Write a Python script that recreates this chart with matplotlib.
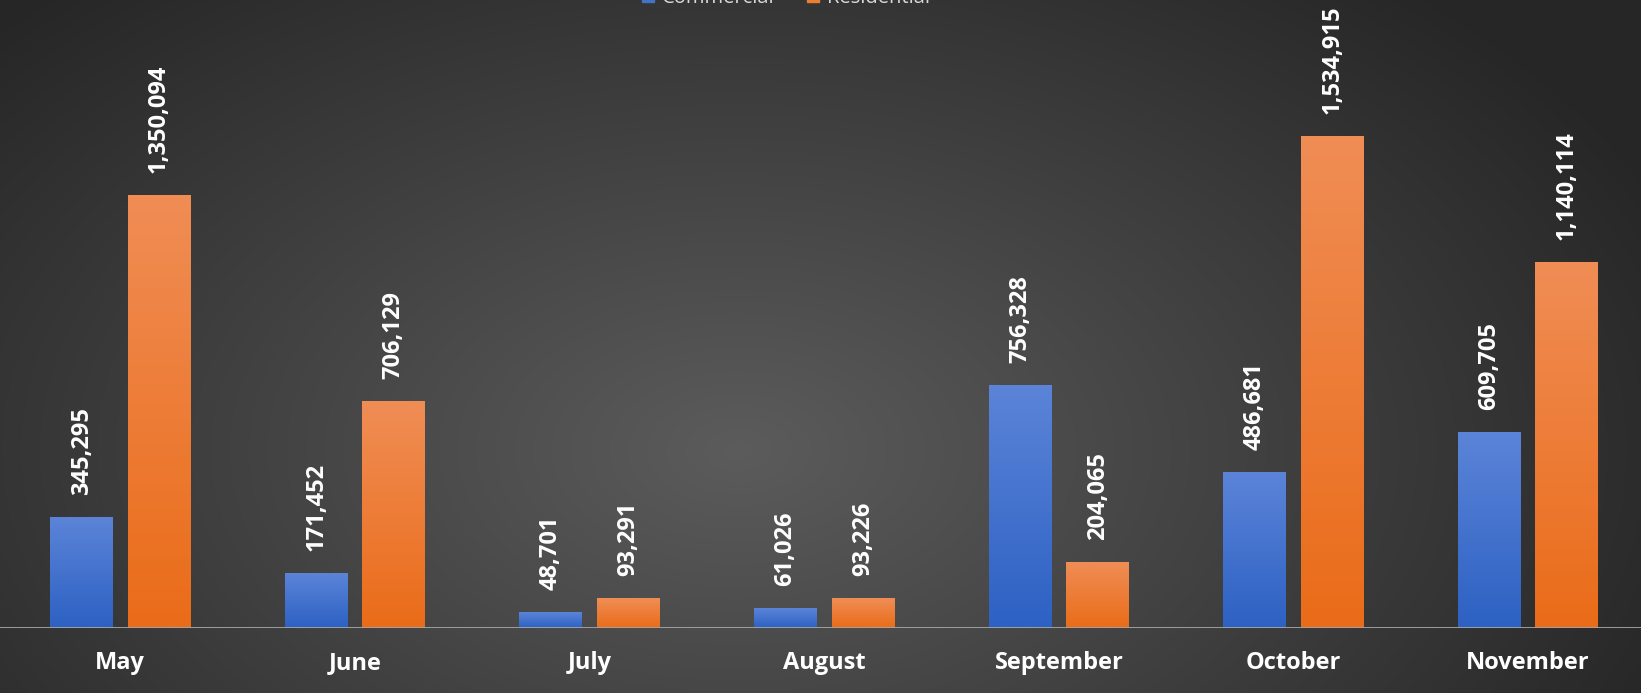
import numpy as np
import matplotlib
matplotlib.use("Agg")
import matplotlib.pyplot as plt
from matplotlib.patches import Patch


# ─────────────────────────── Данные ───────────────────────────
months = ["May", "June", "July", "August", "September", "October", "November"]
commercial = [345295, 171452, 48701, 61026, 756328, 486681, 609705]
residential = [1350094, 706129, 93291, 93226, 204065, 1534915, 1140114]

W, H = 1641, 693
plt.rcParams["font.family"] = ["Open Sans", "DejaVu Sans"]

fig = plt.figure(figsize=(W / 100, H / 100), dpi=100)

# радиальный градиент фона
bg = fig.add_axes([0, 0, 1, 1], zorder=0)
yy, xx = np.mgrid[0:1:300j, 0:1:700j]
r = np.sqrt(((xx - 0.45) / 0.62) ** 2 + ((yy - 0.65) / 0.9) ** 2)
shade = np.clip(0.36 - 0.21 * r, 0.15, 0.36)
bg.imshow(np.dstack([shade, shade, shade]), aspect="auto", extent=[0, 1, 0, 1])
bg.axis("off")

ax = fig.add_axes([0, 0.094, 1, 0.906], zorder=1)
ax.patch.set_alpha(0)

x = np.arange(len(months))
bw = 0.268
off = 0.165


def grad_bar(xc, h, top, bottom):
    top = np.array(matplotlib.colors.to_rgb(top))
    bottom = np.array(matplotlib.colors.to_rgb(bottom))
    t = np.linspace(0, 1, 64)[:, None]
    img = (top * (1 - t) + bottom * t)[:, None, :]
    ax.imshow(img, aspect="auto", extent=[xc - bw / 2, xc + bw / 2, 0, h],
              zorder=2, interpolation="bilinear")


for i in range(len(months)):
    grad_bar(x[i] - off, commercial[i], "#5b84d8", "#2d61c3")
    grad_bar(x[i] + off, residential[i], "#f08d55", "#ea6c19")
    for xc, v in ((x[i] - off, commercial[i]), (x[i] + off, residential[i])):
        ax.annotate(f"{v:,}", (xc, v), xytext=(0, 16), textcoords="offset points",
                    rotation=90, ha="center", va="bottom", color="white",
                    fontsize=17, fontweight="bold")

ax.axhline(0, color="#a6a6a6", lw=2, zorder=3)
ax.set_xlim(-0.513, 6.481)
ax.set_ylim(0, 1.96e6)
ax.set_xticks(x)
ax.set_xticklabels(months, color="white", fontsize=17, fontweight="bold")
ax.tick_params(axis="x", length=0, pad=17)
ax.set_yticks([])
for s in ax.spines.values():
    s.set_visible(False)

handles = [Patch(color="#4472c4", label="Commercial"),
           Patch(color="#ed7d31", label="Residential")]
fig.legend(handles=handles, loc="center", bbox_to_anchor=(0.479, 1.003), ncol=2,
           frameon=False, fontsize=14.5, labelcolor="#d9d9d9",
           handlelength=0.6, handleheight=0.6, handletextpad=0.4, columnspacing=1.6)

fig.savefig("out.png", dpi=100)
